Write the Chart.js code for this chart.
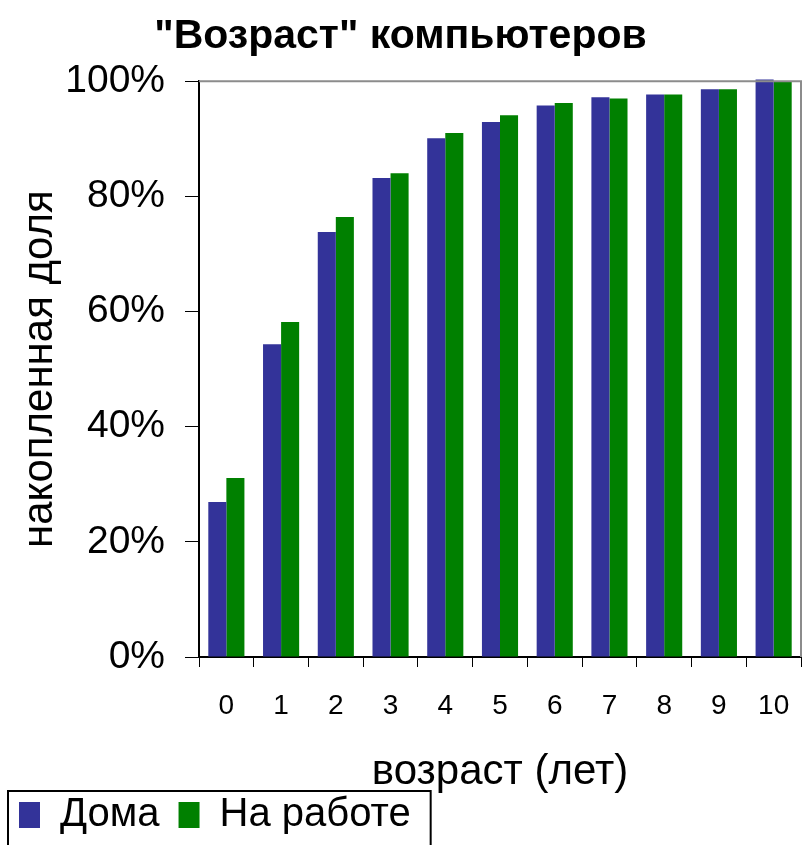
<!DOCTYPE html>
<html>
<head>
<meta charset="utf-8">
<script src="https://cdn.jsdelivr.net/npm/chart.js@4.4.1/dist/chart.umd.min.js"></script>
<style>
html,body{margin:0;padding:0;background:#fff;}
#wrap{width:803px;height:845px;position:relative;}
</style>
</head>
<body>
<div id="wrap"><canvas id="c" width="803" height="845"></canvas></div>
<script>
const categories = ['0','1','2','3','4','5','6','7','8','9','10'];
const homeValues = [26.9, 54.3, 73.8, 83.2, 90.1, 92.9, 95.8, 97.2, 97.7, 98.6, 100.3];
const workValues = [31.1, 58.2, 76.4, 84.0, 91.0, 94.1, 96.2, 97.0, 97.7, 98.6, 100.0];
const seriesNames = ['Дома', 'На работе'];
const yTicks = [0, 20, 40, 60, 80, 100];
const titleText = '"Возраст" компьютеров';
const xTitle = 'возраст (лет)';
const yTitle = 'накопленная доля';

const FONT = "'Liberation Sans', Arial, sans-serif";

const framePlugin = {
  id: 'frame',
  afterDatasetsDraw(chart) {
    const {ctx, chartArea: a} = chart;
    ctx.save();
    ctx.strokeStyle = '#8c8c8c';
    ctx.lineWidth = 2;
    ctx.beginPath();
    ctx.moveTo(a.left, a.top);
    ctx.lineTo(a.right, a.top);
    ctx.lineTo(a.right, a.bottom);
    ctx.stroke();
    ctx.restore();
  },
  afterDraw(chart) {
    const lg = chart.legend;
    if (!lg || !lg.legendHitBoxes || !lg.legendHitBoxes.length) return;
    const hb = lg.legendHitBoxes;
    const first = hb[0], last = hb[hb.length - 1];
    const ctx = chart.ctx;
    ctx.save();
    ctx.strokeStyle = '#000';
    ctx.lineWidth = 2;
    const x0 = first.left - 11;
    const x1 = last.left + last.width + 20;
    const y0 = first.top - 4;
    ctx.strokeRect(x0, y0, x1 - x0, chart.height - y0 + 10);
    ctx.restore();
  }
};

new Chart(document.getElementById('c'), {
  type: 'bar',
  data: {
    labels: categories,
    datasets: [
      { label: seriesNames[0], data: homeValues, backgroundColor: '#333399', borderWidth: 0, clip: false },
      { label: seriesNames[1], data: workValues, backgroundColor: '#008000', borderWidth: 0, clip: false }
    ]
  },
  options: {
    responsive: false,
    animation: false,
    layout: { padding: { left: 0, right: 2, top: 0, bottom: 0 } },
    datasets: { bar: { categoryPercentage: 0.66, barPercentage: 1.0 } },
    plugins: {
      title: {
        display: true,
        text: titleText,
        color: '#000',
        font: { family: FONT, size: 41, weight: 'bold' },
        padding: { top: 12, bottom: 20 }
      },
      legend: {
        display: true,
        position: 'bottom',
        align: 'start',
        labels: {
          color: '#000',
          font: { family: FONT, size: 40 },
          boxWidth: 21,
          boxHeight: 26,
          padding: 19
        }
      },
      tooltip: { enabled: false }
    },
    scales: {
      x: {
        offset: true,
        grid: { display: true, drawOnChartArea: false, drawTicks: true, tickLength: 10, color: '#000', offset: true },
        border: { display: true, color: '#000', width: 2 },
        ticks: { color: '#000', font: { family: FONT, size: 28 }, padding: 22, maxRotation: 0 },
        title: { display: true, text: xTitle, color: '#000', font: { family: FONT, size: 42 }, padding: { top: 0, bottom: -22 } },
        afterFit(s) { s.height = 119; s.paddingLeft = 0; s.paddingRight = 0; }
      },
      y: {
        min: 0,
        max: 100,
        afterBuildTicks(s) { s.ticks = yTicks.map(v => ({ value: v })); },
        grid: { display: true, drawOnChartArea: false, drawTicks: true, tickLength: 14, color: '#000' },
        border: { display: true, color: '#000', width: 2 },
        ticks: { color: '#000', font: { family: FONT, size: 39 }, padding: 20, callback: v => v + '%' },
        title: { display: true, text: yTitle, color: '#000', font: { family: FONT, size: 42 }, padding: { top: 15, bottom: 0 } },
        afterFit(s) { s.width = 199; }
      }
    }
  },
  plugins: [framePlugin]
});
</script>
</body>
</html>
